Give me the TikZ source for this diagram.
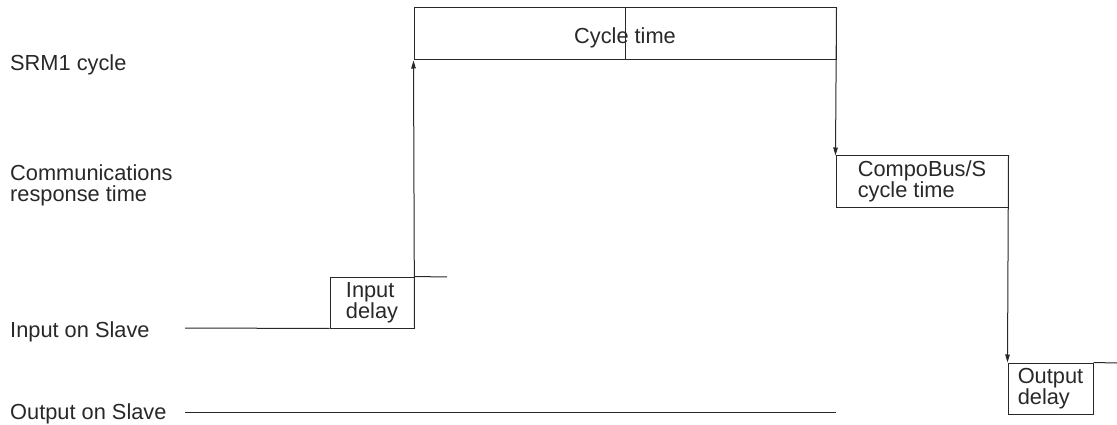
\documentclass[tikz,border=0pt]{standalone}
\usepackage{fontspec}
\setmainfont{Liberation Sans}
\usepackage{tikz}
\usetikzlibrary{
	arrows.meta,
	positioning
}
\definecolor{LineGray}{RGB}{40,40,40}

\begin{document}
\begin{tikzpicture}[x=1pt, y=-1pt,
		every node/.style={font=\fontsize{21.8}{21}\selectfont, text=LineGray},
		lab/.style={anchor=base west, inner sep=0pt},
		timebox/.style={draw=LineGray, line width=1pt, inner sep=0pt, align=left},
		wire/.style={draw=LineGray, line width=1pt},
		tip/.style={wire, -{Triangle[length=8pt, width=4.5pt]}}]
		\useasboundingbox (0,0) rectangle (1117,425);
		
		% row labels on the left
		\node[lab] (lsrm) at (10,71) {SRM1 cycle};
		\node[lab, anchor=north west, align=left] (lcom) at (10,165) {Communications\\response time};
		\node[lab] (lin) at (10,337) {Input on Slave};
		\node[lab] (lout) at (10,419) {Output on Slave};
		
		% time boxes
		\node[timebox, minimum width=84pt, minimum height=51pt] (ind) at (372,302.5) {Input\\delay};
		\node[timebox, minimum width=422pt, minimum height=52pt, text height=23pt, text depth=4.5pt] (cyc) at (625,34) {Cycle time};
		\node[timebox, minimum width=172pt, minimum height=51pt] (cbs) at (922,181.5) {CompoBus/S\\cycle time};
		\node[timebox, minimum width=85pt, minimum height=51pt] (outd) at (1050.5,388.5) {Output\\delay};
		
		\draw[wire] (cyc.north) -- (cyc.south);
		
		% free ends of the signal lines
		\coordinate (inS) at (185,328);
		\coordinate (inE) at (447,277);
		\coordinate (outE) at (1117,363);
		\coordinate (oS) at (185,412);
		\coordinate (oE) at (836,412);
		
		% signal path
		\draw[wire] (inS) -- (ind.south west);
		\draw[wire] (ind.north east) -- (inE);
		\draw[tip] (ind.south east) -- (cyc.south west);
		\draw[tip] (cyc.north east) -- (cbs.north west);
		\draw[tip] (cbs.north east) -- (outd.north west);
		\draw[wire] (outd.north east) -- (outE);
		\draw[wire] (oS) -- (oE);
	\end{tikzpicture}
\end{document}
